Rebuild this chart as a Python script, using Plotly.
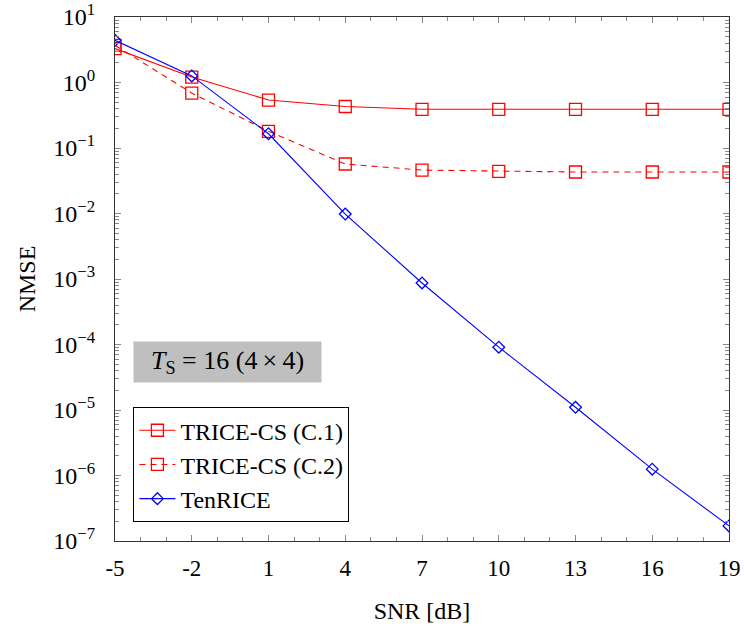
import plotly.graph_objects as go

snr = [-5, -2, 1, 4, 7, 10, 13, 16, 19]
trice_c1 = [3.3, 1.21, 0.54, 0.43, 0.39, 0.39, 0.39, 0.39, 0.39]
trice_c2 = [3.7, 0.69, 0.18, 0.057, 0.046, 0.044, 0.043, 0.043, 0.043]
tenrice = [4.4, 1.26, 0.165, 0.0098, 8.7e-4, 9.1e-5, 1.1e-5, 1.25e-6, 1.7e-7]

x_ticks = [-5, -2, 1, 4, 7, 10, 13, 16, 19]
y_exps = list(range(-7, 2))

FONT = "Liberation Serif"

fig = go.Figure()
fig.add_trace(go.Scatter(x=snr, y=trice_c1, name="TRICE-CS (C.1)", mode="lines+markers",
                         line=dict(color="#ff0000", width=1.1),
                         marker=dict(symbol="square-open", size=12, color="#ff0000", line=dict(width=1.3))))
fig.add_trace(go.Scatter(x=snr, y=trice_c2, name="TRICE-CS (C.2)", mode="lines+markers",
                         line=dict(color="#ff0000", width=1.1, dash="6px,5px"),
                         marker=dict(symbol="square-open", size=12, color="#ff0000", line=dict(width=1.3))))
fig.add_trace(go.Scatter(x=snr, y=tenrice, name="TenRICE", mode="lines+markers",
                         line=dict(color="#0000ff", width=1.1),
                         marker=dict(symbol="diamond-open", size=9, color="#0000ff", line=dict(width=1.3))))

minor_y = [m * 10.0 ** e for e in range(-7, 1) for m in range(2, 10)]
minor_x = [v for v in range(-5, 20) if v not in x_ticks]

def sup(e):
    return "10<sup>%s</sup>" % (str(e).replace("-", "\u2212"))

fig.update_layout(
    width=744, height=630,
    margin=dict(l=115, r=15, t=17, b=89),
    paper_bgcolor="white", plot_bgcolor="white",
    font=dict(family=FONT, size=22, color="black"),
    showlegend=True,
    legend=dict(x=0.03, y=0.036, xanchor="left", yanchor="bottom",
                bordercolor="black", borderwidth=1, bgcolor="white",
                font=dict(size=24, family=FONT), tracegroupgap=0, itemwidth=36),
    xaxis=dict(range=[-5, 19], tickmode="array", tickvals=x_ticks,
               ticktext=[str(v) for v in x_ticks], automargin=False,
               ticks="inside", ticklen=6, tickcolor="#888", showgrid=False, zeroline=False,
               showline=True, linecolor="#333", linewidth=1.3, mirror="ticks",
               minor=dict(tickmode="array", tickvals=minor_x, ticks="inside", ticklen=4, tickcolor="#888"),
               title=dict(text="SNR [dB]", font=dict(size=24), standoff=22),
               tickfont=dict(size=23), ticklabelstandoff=6),
    yaxis=dict(type="log", range=[-7, 1], tickmode="array", automargin=False,
               tickvals=[10.0 ** e for e in y_exps], ticktext=[sup(e) for e in y_exps],
               ticks="inside", ticklen=6, tickcolor="#888", showgrid=False, zeroline=False,
               showline=True, linecolor="#333", linewidth=1.3, mirror="ticks",
               minor=dict(tickmode="array", tickvals=minor_y, ticks="inside", ticklen=4, tickcolor="#888"),
               title=dict(text="NMSE", font=dict(size=24), standoff=10),
               tickfont=dict(size=24), ticklabelstandoff=14),
)

fig.add_annotation(xref="paper", yref="paper", x=0.03, y=0.342, xanchor="left", yanchor="middle",
                   text="\u2002<i>T</i><sub>S</sub> = 16 (4\u2009\u00d7\u20094)\u2002", showarrow=False,
                   bgcolor="#bfbfbf", font=dict(size=26, family=FONT), borderpad=4)

fig.write_html("out.html")
